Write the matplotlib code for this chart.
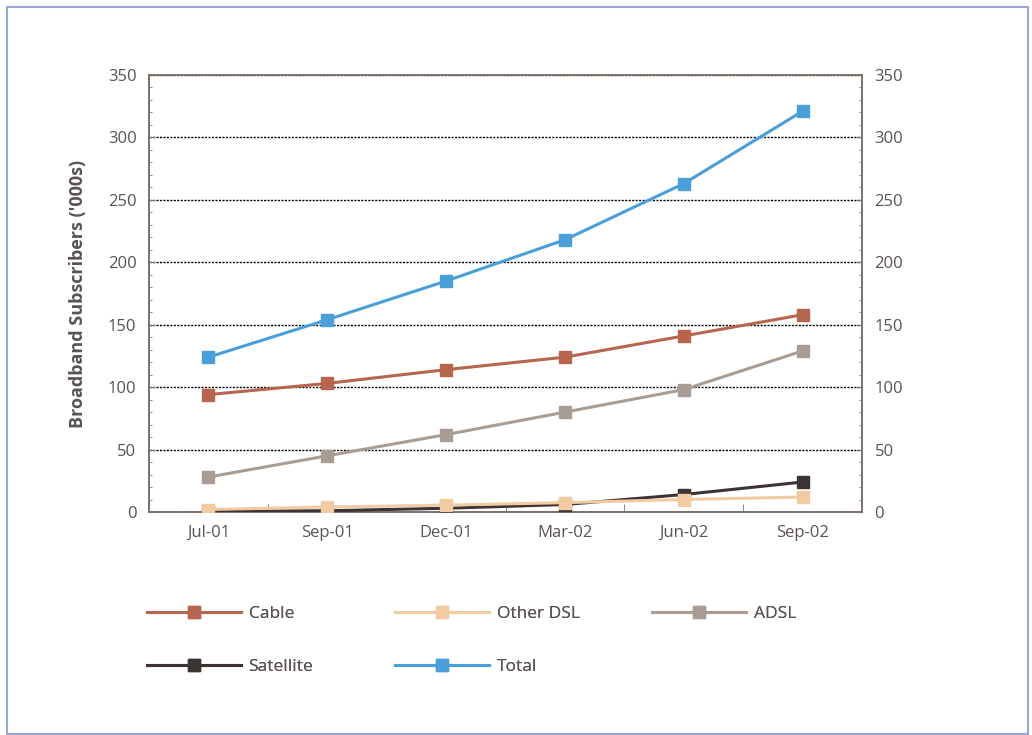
import matplotlib
matplotlib.use("Agg")
import matplotlib.pyplot as plt
from matplotlib.patches import Rectangle
from matplotlib.ticker import MultipleLocator, FixedLocator

categories = ["Jul-01", "Sep-01", "Dec-01", "Mar-02", "Jun-02", "Sep-02"]
cable = [94, 103, 114, 124, 141, 158]
other_dsl = [2, 4, 5.5, 7.5, 10, 12]
adsl = [28, 45, 62, 80, 98, 129]
satellite = [0.5, 1, 3, 6, 14, 24]
total = [124, 154, 185, 218, 263, 321]
y_ticks = [0, 50, 100, 150, 200, 250, 300, 350]

colors = {
    "Cable": "#b8654f",
    "Other DSL": "#f3cba3",
    "ADSL": "#a99c95",
    "Satellite": "#3b3432",
    "Total": "#4b9fd9",
}
txt = "#5a5350"
frame = "#7d716a"

plt.rcParams['font.family'] = ['Open Sans', 'DejaVu Sans']

fig = plt.figure(figsize=(10.32, 7.35), dpi=100)
fig.patches.append(Rectangle((0.007, 0.002), 0.989, 0.988, transform=fig.transFigure,
                             fill=False, edgecolor="#9aa5d8", linewidth=1.5))
ax = fig.add_axes([0.1444, 0.3034, 0.6909, 0.5946])
x = list(range(len(categories)))

series = [("Total", total), ("Cable", cable), ("ADSL", adsl),
          ("Satellite", satellite), ("Other DSL", other_dsl)]
handles = {}
for name, vals in series:
    h, = ax.plot(x, vals, color=colors[name], linewidth=2.2, marker="s",
                 markersize=9, markerfacecolor=colors[name], markeredgecolor=colors[name],
                 label=name, zorder=3)
    handles[name] = h

ax.set_xlim(-0.5, 5.5)
ax.set_ylim(0, 350)
ax.set_yticks(y_ticks)
ax.yaxis.set_minor_locator(MultipleLocator(10))
ax.set_xticks(x)
ax.set_xticklabels(categories)
ax.xaxis.set_minor_locator(FixedLocator([0.5, 1.5, 2.5, 3.5, 4.5]))
ax.tick_params(axis="x", which="major", length=0, pad=9, labelsize=12, labelcolor=txt)
ax.tick_params(axis="x", which="minor", direction="in", length=6, color=frame)
ax.tick_params(axis="y", which="major", direction="in", length=4, color=frame,
               labelsize=12, labelcolor=txt, pad=9)
ax.tick_params(axis="y", which="minor", direction="in", length=2.5, color=frame)
for s in ax.spines.values():
    s.set_color(frame)
    s.set_linewidth(1.4)
ax.grid(axis="y", which="major", color="black", linestyle=(0, (1.5, 1)), linewidth=1.0)
ax.set_axisbelow(True)
ax.set_ylabel("Broadband Subscribers ('000s)", fontsize=13, fontweight="bold",
              color=txt, labelpad=15)

ax2 = ax.twinx()
ax2.set_ylim(0, 350)
ax2.set_yticks(y_ticks)
ax2.yaxis.set_minor_locator(MultipleLocator(10))
ax2.tick_params(axis="y", which="major", direction="in", length=4, color=frame,
                labelsize=12, labelcolor=txt, pad=9)
ax2.tick_params(axis="y", which="minor", direction="in", length=2.5, color=frame)
for s in ax2.spines.values():
    s.set_visible(False)

columns = [(["Cable", "Satellite"], 0.1424), (["Other DSL", "Total"], 0.3828),
           (["ADSL"], 0.6318)]
for names, xa in columns:
    leg = fig.legend([handles[n] for n in names], names, ncol=1,
                     loc="upper left", bbox_to_anchor=(xa, 0.176),
                     frameon=False, handlelength=5.4, handletextpad=0.45,
                     labelspacing=2.15, fontsize=12.5, borderpad=0, borderaxespad=0)
    for t in leg.get_texts():
        t.set_color(txt)
    fig.add_artist(leg)

fig.savefig("out.png", dpi=100)
